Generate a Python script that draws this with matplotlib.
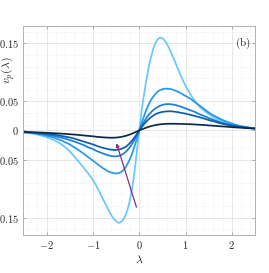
import matplotlib
matplotlib.use('Agg')
import matplotlib.pyplot as plt
from matplotlib.ticker import FixedLocator, MultipleLocator

plt.rcParams['mathtext.fontset'] = 'cm'
plt.rcParams['font.family'] = 'serif'

# lambda samples (finer near the centre)
lam = [-2.5, -2.4, -2.3, -2.2, -2.1, -2.0, -1.9, -1.8, -1.7, -1.6, -1.5, -1.4, -1.3, -1.2, -1.1,
       -1.0, -0.9, -0.8, -0.7,
       -0.65, -0.6, -0.55, -0.5, -0.45, -0.4, -0.35, -0.3, -0.25, -0.2, -0.15, -0.1, -0.05, 0.0,
       0.05, 0.1, 0.15, 0.2, 0.25, 0.3, 0.35, 0.4, 0.45, 0.5, 0.55, 0.6, 0.65, 0.7, 0.75, 0.8,
       0.9, 1.0, 1.1, 1.2, 1.3, 1.4, 1.5, 1.6, 1.7, 1.8, 1.9, 2.0, 2.1, 2.2, 2.3, 2.4, 2.5]

vp1 = [-0.003, -0.004, -0.0055, -0.007, -0.009, -0.0115, -0.0145, -0.018, -0.0225, -0.0285,
       -0.036, -0.045, -0.054, -0.064, -0.074, -0.085, -0.099, -0.115, -0.131,
       -0.139, -0.146, -0.152, -0.156, -0.159, -0.158, -0.154, -0.147, -0.136, -0.120, -0.098,
       -0.070, -0.036, 0.0, 0.032, 0.060, 0.085, 0.107, 0.125, 0.140, 0.151, 0.157, 0.160, 0.159,
       0.155, 0.149, 0.141, 0.132, 0.123, 0.113,
       0.094, 0.077, 0.063, 0.051, 0.041, 0.034, 0.028, 0.023, 0.019, 0.016, 0.013, 0.010, 0.0085,
       0.007, 0.006, 0.005, 0.004]
vp2 = [-0.003, -0.0035, -0.0045, -0.0055, -0.007, -0.009, -0.011, -0.0135, -0.0165, -0.020,
       -0.024, -0.029, -0.034, -0.040, -0.046, -0.052, -0.058, -0.064, -0.069,
       -0.071, -0.0725, -0.0735, -0.074, -0.0735, -0.072, -0.069, -0.064, -0.057, -0.049, -0.039,
       -0.027, -0.014, 0.0, 0.012, 0.024, 0.035, 0.044, 0.052, 0.058, 0.063, 0.067, 0.0695, 0.071,
       0.072, 0.072, 0.0715, 0.071, 0.0695, 0.068,
       0.064, 0.0595, 0.055, 0.049, 0.043, 0.037, 0.031, 0.026, 0.022, 0.018, 0.015, 0.012, 0.0095,
       0.0075, 0.006, 0.0045, 0.0035]
vp3 = [-0.003, -0.0035, -0.004, -0.005, -0.006, -0.007, -0.0085, -0.010, -0.012, -0.014,
       -0.0165, -0.019, -0.022, -0.025, -0.029, -0.032, -0.036, -0.039, -0.042,
       -0.043, -0.044, -0.0445, -0.0445, -0.044, -0.0425, -0.0405, -0.0375, -0.0335, -0.0285,
       -0.0225, -0.0155, -0.008, 0.0, 0.0075, 0.0145, 0.021, 0.0265, 0.031, 0.035, 0.038, 0.0405,
       0.0425, 0.044, 0.045, 0.0455, 0.0455, 0.045, 0.0445, 0.0435,
       0.041, 0.038, 0.035, 0.032, 0.028, 0.025, 0.0215, 0.0185, 0.0155, 0.013, 0.011, 0.009,
       0.0075, 0.006, 0.005, 0.004, 0.0035]
vp4 = [-0.003, -0.003, -0.0035, -0.004, -0.0045, -0.0055, -0.0065, -0.0075, -0.009, -0.0105,
       -0.012, -0.014, -0.0165, -0.019, -0.0215, -0.024, -0.027, -0.0295, -0.0315,
       -0.0325, -0.033, -0.0335, -0.0335, -0.033, -0.032, -0.0305, -0.0285, -0.0255, -0.0215,
       -0.017, -0.0118, -0.006, 0.0, 0.0055, 0.0105, 0.015, 0.019, 0.0225, 0.0255, 0.028, 0.0298,
       0.031, 0.032, 0.0325, 0.033, 0.033, 0.033, 0.0325, 0.032,
       0.0305, 0.029, 0.027, 0.025, 0.023, 0.0205, 0.018, 0.016, 0.0135, 0.0115, 0.0098, 0.0083,
       0.007, 0.006, 0.005, 0.004, 0.0035]
vp5 = [-0.0025, -0.0027, -0.003, -0.0033, -0.0036, -0.004, -0.0044, -0.0048, -0.0053, -0.0058,
       -0.0064, -0.007, -0.0077, -0.0085, -0.0093, -0.010, -0.011, -0.0117, -0.0122,
       -0.0124, -0.0125, -0.0124, -0.0122, -0.0118, -0.0112, -0.0104, -0.0094, -0.0082, -0.0068,
       -0.0052, -0.0035, -0.0018, 0.0, 0.0017, 0.0033, 0.0048, 0.0062, 0.0074, 0.0084, 0.0093,
       0.0100, 0.0106, 0.011, 0.0113, 0.0115, 0.0116, 0.0116, 0.0116, 0.0115,
       0.0113, 0.0111, 0.0108, 0.0104, 0.0099, 0.0094, 0.0088, 0.0082, 0.0076, 0.007, 0.0064,
       0.0058, 0.0052, 0.0047, 0.0042, 0.0037, 0.0033]

curves = [vp1, vp2, vp3, vp4, vp5]
colors = ['#66c8ff', '#2896eb', '#1a7fd6', '#105ba6', '#0a2a48']

arrow_start = (-0.06, -0.132)
arrow_end = (-0.49, -0.022)

yticks = [-0.15, -0.05, 0, 0.05, 0.15]
yticklabels = ['$-0.15$', '$-0.05$', '$0$', '$0.05$', '$0.15$']
xticks = [-2, -1, 0, 1, 2]
xticklabels = ['$-2$', '$-1$', '$0$', '$1$', '$2$']

fig = plt.figure(figsize=(2.69, 2.73), dpi=100)
ax = fig.add_axes([0.087, 0.139, 0.861, 0.766])

for vp, c in zip(curves, colors):
    ax.plot(lam, vp, color=c, lw=1.25, solid_joinstyle='round')

ax.annotate('', xy=arrow_end, xytext=arrow_start,
            arrowprops=dict(arrowstyle='-|>', color='#7e2f8e', lw=0.9,
                            mutation_scale=5, shrinkA=0, shrinkB=0))

ax.set_xlim(-2.5, 2.5)
ax.set_ylim(-0.18, 0.18)
ax.xaxis.set_major_locator(FixedLocator(xticks))
ax.set_xticklabels(xticklabels)
ax.yaxis.set_major_locator(FixedLocator(yticks))
ax.set_yticklabels(yticklabels)
ax.xaxis.set_minor_locator(MultipleLocator(0.2))
ax.yaxis.set_minor_locator(MultipleLocator(0.02, offset=0.01))

ax.grid(True, which='major', color='#e3e3e3', lw=0.6)
ax.grid(True, which='minor', color='#e6e6e6', lw=0.5, ls=':')
ax.set_axisbelow(True)

ax.tick_params(which='both', direction='in', top=True, right=True, color='#a0a0a0',
               labelsize=7.5, pad=3, labelcolor='#262626')
ax.tick_params(which='major', length=2.5, width=0.6)
ax.tick_params(which='minor', length=0)
for s in ax.spines.values():
    s.set_color('#b0b0b0')
    s.set_linewidth(0.7)

ax.set_xlabel(r'$\lambda$', fontsize=8.5, labelpad=1, color='#262626')
ax.set_ylabel(r'$v_p(\lambda)$', fontsize=8.5, color='#262626')
ax.yaxis.set_label_coords(-0.028, 0.79)

ax.text(0.98, 0.955, r'$\mathrm{(b)}$', transform=ax.transAxes, ha='right', va='top',
        fontsize=8, color='#262626')

fig.savefig('out.png', dpi=100)
